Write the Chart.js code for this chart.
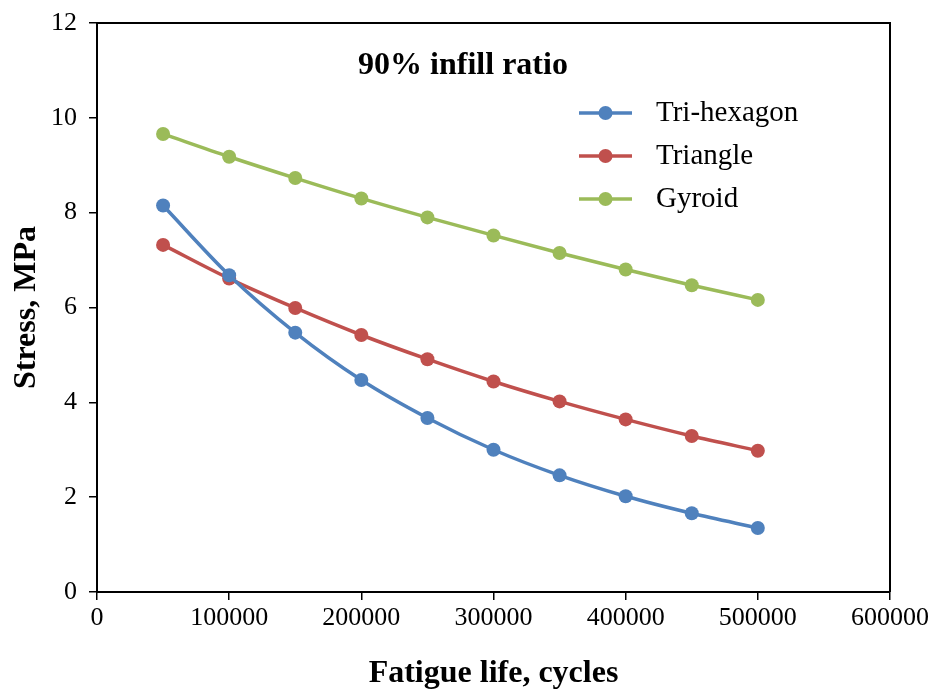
<!DOCTYPE html>
<html>
<head>
<meta charset="utf-8">
<script src="https://cdn.jsdelivr.net/npm/chart.js@4"></script>
<style>
  body { margin: 0; background: #fff; }
  #wrap { width: 933px; height: 690px; }
</style>
</head>
<body>
<div id="wrap"><canvas id="chart" width="933" height="690"></canvas></div>
<script>
// fatigue life (cycles) and stress (MPa) per infill pattern
const cycles = [50000, 100000, 150000, 200000, 250000, 300000, 350000, 400000, 450000, 500000];
const triHexagon = [8.15, 6.68, 5.47, 4.47, 3.67, 3.00, 2.46, 2.02, 1.66, 1.35];
const triangle = [7.32, 6.61, 5.99, 5.42, 4.91, 4.44, 4.02, 3.64, 3.29, 2.98];
const gyroid = [9.66, 9.18, 8.73, 8.30, 7.90, 7.52, 7.15, 6.80, 6.47, 6.16];
const seriesNames = ['Tri-hexagon', 'Triangle', 'Gyroid'];
const seriesColors = ['#4f81bd', '#c0504d', '#9bbb59'];
const yTicks = [0, 2, 4, 6, 8, 10, 12];
const xTicks = [0, 100000, 200000, 300000, 400000, 500000, 600000];
const chartTitle = '90% infill ratio';

const SERIF = '"Liberation Serif", "Times New Roman", serif';

function toPoints(vals) {
    return cycles.map((c, i) => ({ x: c, y: vals[i] }));
}

function makeSet(label, vals, color) {
    return {
        label: label,
        data: toPoints(vals),
        showLine: true,
        borderColor: color,
        backgroundColor: color,
        borderWidth: 3.5,
        pointRadius: 7,
        pointHoverRadius: 7,
        pointBorderWidth: 0,
        tension: 0.4,
        cubicInterpolationMode: 'monotone'
    };
}

// frame around the plot area, title and legend drawn inside it
const framePlugin = {
    id: 'frame',
    afterDraw(chart) {
        const ctx = chart.ctx;
        const a = chart.chartArea;
        ctx.save();
        ctx.strokeStyle = '#000';
        ctx.lineWidth = 2;
        ctx.beginPath();
        ctx.moveTo(a.left, a.top);
        ctx.lineTo(a.right, a.top);
        ctx.lineTo(a.right, a.bottom);
        ctx.stroke();

        ctx.fillStyle = '#000';
        ctx.font = 'bold 32px ' + SERIF;
        ctx.textAlign = 'center';
        ctx.textBaseline = 'middle';
        ctx.fillText(chartTitle, 463, 66);

        ctx.font = '29px ' + SERIF;
        ctx.textAlign = 'left';
        chart.data.datasets.forEach((ds, i) => {
            const y = 113 + i * 43;
            ctx.strokeStyle = ds.borderColor;
            ctx.lineWidth = 3.5;
            ctx.beginPath();
            ctx.moveTo(579, y);
            ctx.lineTo(632, y);
            ctx.stroke();
            ctx.fillStyle = ds.borderColor;
            ctx.beginPath();
            ctx.arc(605.5, y, 7, 0, Math.PI * 2);
            ctx.fill();
            ctx.fillStyle = '#000';
            ctx.fillText(ds.label, 656, y);
        });
        ctx.restore();
    }
};

new Chart(document.getElementById('chart'), {
    type: 'scatter',
    data: {
        datasets: [
            makeSet(seriesNames[0], triHexagon, seriesColors[0]),
            makeSet(seriesNames[1], triangle, seriesColors[1]),
            makeSet(seriesNames[2], gyroid, seriesColors[2])
        ]
    },
    options: {
        responsive: false,
        animation: false,
        layout: { padding: { top: 23, right: 43, left: 0, bottom: 0 } },
        plugins: {
            legend: { display: false },
            tooltip: { enabled: false }
        },
        scales: {
            x: {
                type: 'linear',
                min: 0,
                max: 600000,
                afterBuildTicks(scale) { scale.ticks = xTicks.map(v => ({ value: v })); },
                afterFit(scale) { scale.height = 98; },
                ticks: {
                    color: '#000',
                    font: { family: SERIF, size: 26 },
                    padding: 3,
                    maxRotation: 0,
                    callback: v => String(v)
                },
                grid: { drawOnChartArea: false, color: '#000', tickLength: 8, lineWidth: 1.5 },
                border: { color: '#000', width: 2 },
                title: {
                    display: true,
                    text: 'Fatigue life, cycles',
                    color: '#000',
                    font: { family: SERIF, size: 32, weight: 'bold', lineHeight: 1 },
                    padding: { top: 0, bottom: 0 }
                }
            },
            y: {
                min: 0,
                max: 12,
                afterBuildTicks(scale) { scale.ticks = yTicks.map(v => ({ value: v })); },
                afterFit(scale) {
                    scale.width = 97;
                    scale.paddingTop = 0;
                    scale.paddingBottom = 0;
                },
                ticks: {
                    color: '#000',
                    font: { family: SERIF, size: 26 },
                    padding: 12
                },
                grid: { drawOnChartArea: false, color: '#000', tickLength: 8, lineWidth: 1.5 },
                border: { color: '#000', width: 2 },
                title: {
                    display: true,
                    text: 'Stress, MPa',
                    color: '#000',
                    font: { family: SERIF, size: 32, weight: 'bold' },
                    padding: { top: 8, bottom: 8 }
                }
            }
        }
    },
    plugins: [framePlugin]
});
</script>
</body>
</html>
